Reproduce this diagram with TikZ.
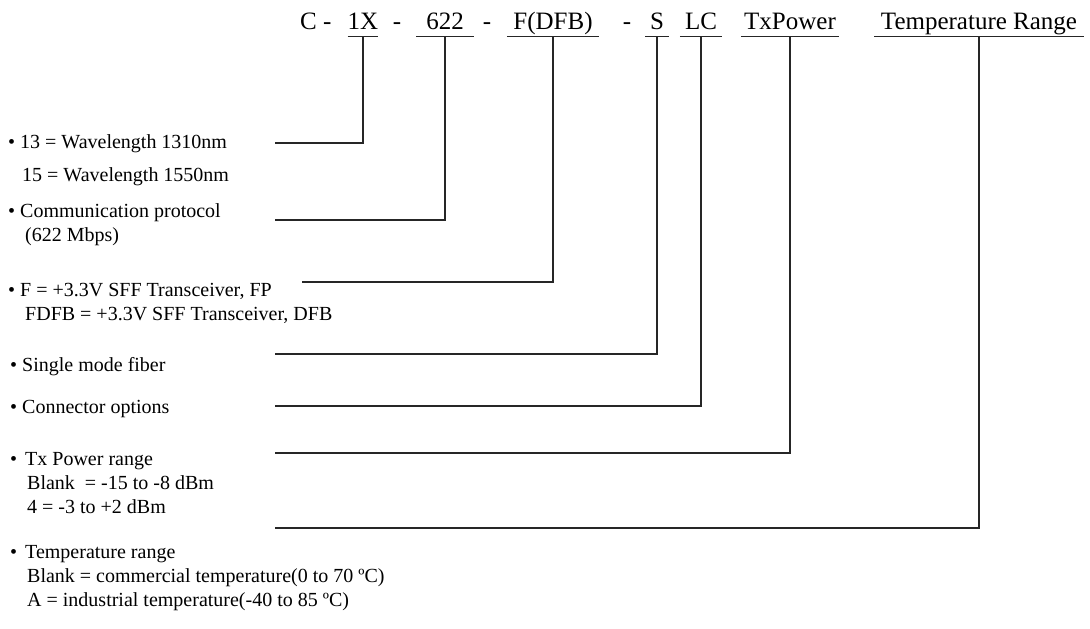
\documentclass[tikz,border=0pt]{standalone}
\usepackage{fontspec}
\setmainfont{Liberation Serif}

\begin{document}
\begin{tikzpicture}[x=1pt,y=-1pt,
  field/.style={font=\fontsize{25}{30}\selectfont, anchor=base, inner xsep=0pt, inner ysep=7pt, text depth=0pt},
  item/.style={font=\fontsize{20}{24}\selectfont, anchor=base west, inner sep=0pt},
  lead/.style={line width=1.1pt, black!85}]
  \useasboundingbox (0,0) rectangle (1090,629);
  % Part number fields
  \node[field, anchor=base west] (c) at (300,29) {C -};
  \node[field, minimum width=30pt] (wl) at (363,29) {1X};
  \node[field] (d1) at (397,29) {-};
  \node[field, minimum width=57pt] (rate) at (445,29) {622};
  \node[field] (d2) at (487,29) {-};
  \node[field, minimum width=92pt] (type) at (553,29) {F(DFB)};
  \node[field] (d3) at (627,29) {-};
  \node[field, minimum width=23pt] (fib) at (657,29) {S};
  \node[field, minimum width=42pt] (conn) at (701,29) {LC};
  \node[field, minimum width=98pt] (pow) at (790,29) {TxPower};
  \node[field, minimum width=209pt] (temp) at (979,29) {Temperature Range};
  % Underlines
  \foreach \f in {wl,rate,type,fib,conn,pow,temp}
    \draw[lead] (\f.south west) -- (\f.south east);
  % Descriptions
  \node[item] (wltxt) at (8,148) {\begin{tabular}[t]{@{}l@{}}
    • 13 = Wavelength 1310nm\\[9pt]
    \hspace{14pt}15 = Wavelength 1550nm\end{tabular}};
  \node[item] (ratetxt) at (8,217) {\begin{tabular}[t]{@{}l@{}}
    • Communication protocol\\
    \hspace{17pt}(622 Mbps)\end{tabular}};
  \node[item] (typetxt) at (8,296) {\begin{tabular}[t]{@{}l@{}}
    • F = +3.3V SFF Transceiver, FP\\
    \hspace{17pt}FDFB = +3.3V SFF Transceiver, DFB\end{tabular}};
  \node[item] (fibtxt) at (10,371) {• Single mode fiber};
  \node[item] (conntxt) at (10,413) {• Connector options};
  \node[item] (powtxt) at (10,465) {\begin{tabular}[t]{@{}l@{}}
    •\hspace{8pt}Tx Power range\\
    \hspace{17pt}Blank~~= -15 to -8 dBm\\
    \hspace{17pt}4 = -3 to +2 dBm\end{tabular}};
  \node[item] (temptxt) at (10,558) {\begin{tabular}[t]{@{}l@{}}
    •\hspace{8pt}Temperature range\\
    \hspace{17pt}Blank = commercial temperature(0 to 70 ºC)\\
    \hspace{17pt}A = industrial temperature(-40 to 85 ºC)\end{tabular}};
  % Leader ends
  \coordinate (wlend) at (275,143);
  \coordinate (rateend) at (275,220);
  \coordinate (typeend) at (302,282);
  \coordinate (fibend) at (275,354);
  \coordinate (connend) at (275,406);
  \coordinate (powend) at (275,453);
  \coordinate (tempend) at (275,528);
  % Leaders
  \foreach \f in {wl,rate,type,fib,conn,pow,temp}
    \draw[lead] (\f.south) |- (\f end);
\end{tikzpicture}
\end{document}
